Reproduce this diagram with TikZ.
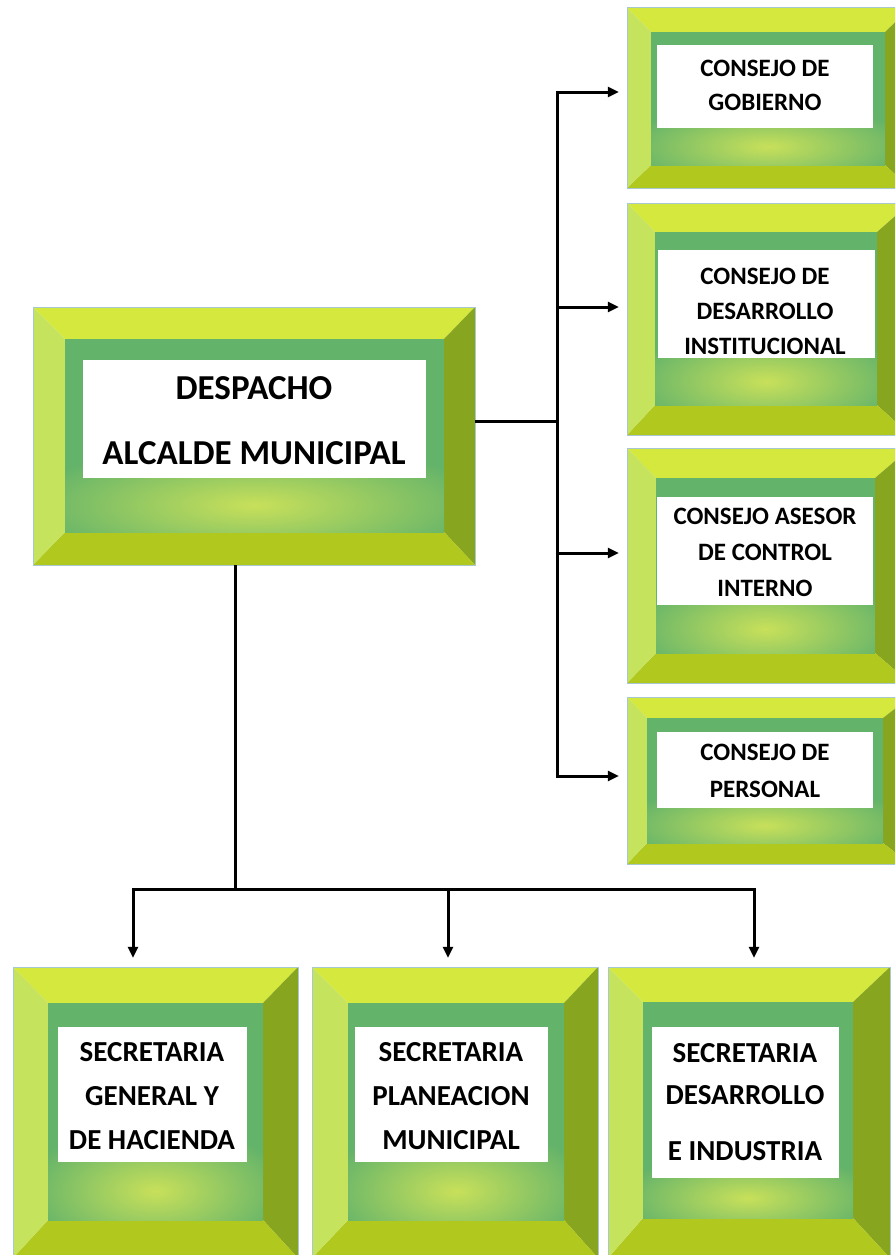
\documentclass[tikz,border=0pt]{standalone}
\usepackage{fontspec}
\setmainfont{Carlito}
\usetikzlibrary{arrows.meta,calc,fit}
\definecolor{ftop}{HTML}{D4E83E}
\definecolor{fleft}{HTML}{C6E35E}
\definecolor{fright}{HTML}{87A51F}
\definecolor{fbottom}{HTML}{B1C91F}
\definecolor{ingreen}{HTML}{63B36A}
\definecolor{glow}{HTML}{C8E05A}
\definecolor{edgeblue}{HTML}{A8C8D0}
\tikzset{
  conn/.style={draw=black, line width=3pt},
  tipend/.style={-{Triangle[length=11pt,width=10pt]}},
  tipboth/.style={{Triangle[length=11pt,width=10pt]}-{Triangle[length=11pt,width=10pt]}},
  label/.style={align=center, inner sep=0pt, text=black},
  desptext/.style={label, font=\bfseries\fontsize{35}{65}\selectfont},
  constext/.style={label, font=\bfseries\fontsize{25}{35}\selectfont},
  secrtext/.style={label, font=\bfseries\fontsize{29}{44}\selectfont},
}
% #1 name, #2 outer corner a, #3 outer corner b, #4 inner a, #5 inner b, #6 white a, #7 white b
\newcommand\bevbox[7]{%
  \coordinate (#1oa) at #2; \coordinate (#1ob) at #3;
  \coordinate (#1ia) at #4; \coordinate (#1ib) at #5;
  \coordinate (#1wa) at #6; \coordinate (#1wb) at #7;
  \fill[ftop] (#1oa) -- (#1oa -| #1ob) -- (#1ia -| #1ib) -- (#1ia) -- cycle;
  \fill[fright] (#1oa -| #1ob) -- (#1ob) -- (#1ib) -- (#1ia -| #1ib) -- cycle;
  \fill[fbottom] (#1ob) -- (#1oa |- #1ob) -- (#1ia |- #1ib) -- (#1ib) -- cycle;
  \fill[fleft] (#1oa |- #1ob) -- (#1oa) -- (#1ia) -- (#1ia |- #1ib) -- cycle;
  \fill[ingreen] (#1ia) rectangle (#1ib);
  \begin{scope}
    \clip (#1ia) rectangle (#1ib);
    \path let \p1=(#1ia), \p2=(#1ib), \p3=(#1wb) in
      \pgfextra{\pgfmathsetmacro\gcx{(\x1+\x2)/2}\pgfmathsetmacro\gcy{\y3+0.5*(\y2-\y3)}
      \pgfmathsetmacro\grx{0.62*(\x2-\x1)}\pgfmathsetmacro\gry{1.15*(\y3-\y2)}
      \xdef\gcx{\gcx}\xdef\gcy{\gcy}\xdef\grx{\grx}\xdef\gry{\gry}};
    \shade[inner color=glow, outer color=ingreen]
      (\gcx pt,\gcy pt) ellipse [x radius=\grx pt, y radius=\gry pt];
  \end{scope}
  \draw[edgeblue, line width=1pt] (#1oa) rectangle (#1ob);
  \fill[white] (#1wa) rectangle (#1wb);
  \node[inner sep=0pt, fit=(#1oa)(#1ob)] (#1) {};
}
\begin{document}
\begin{tikzpicture}[x=1pt,y=-1pt]
\useasboundingbox (0,0) rectangle (895,1255);
\fill[white] (0,0) rectangle (895,1255);
\clip (0,0) rectangle (895,1255);

% boxes
\bevbox{desp}{(33,307)}{(475,565)}{(65,339)}{(444,532)}{(83,360)}{(426,478)}
\bevbox{ca}{(627,8)}{(910,188)}{(651,32)}{(885,165)}{(657,45)}{(873,128)}
\bevbox{cb}{(627,203)}{(910,435)}{(655,232)}{(877,405)}{(658,250)}{(875,358)}
\bevbox{cc}{(627,448)}{(910,683)}{(656,478)}{(875,653)}{(657,497)}{(873,605)}
\bevbox{cd}{(627,697)}{(910,864)}{(647,718)}{(883,843)}{(657,732)}{(873,808)}
\bevbox{sa}{(13,967)}{(298,1258)}{(48,1003)}{(263,1220)}{(58,1027)}{(247,1162)}
\bevbox{sb}{(312,967)}{(598,1258)}{(348,1003)}{(564,1220)}{(355,1027)}{(548,1162)}
\bevbox{sc}{(608,967)}{(890,1258)}{(643,1002)}{(853,1218)}{(652,1027)}{(839,1178)}

% texts
\node[desptext] (despt) at (254,421) {DESPACHO\\ALCALDE MUNICIPAL};
\node[constext, font=\bfseries\fontsize{25}{34}\selectfont] (cat) at (765,85) {CONSEJO DE\\GOBIERNO};
\node[constext] (cbt) at (765,311) {CONSEJO DE\\DESARROLLO\\INSTITUCIONAL};
\node[constext, font=\bfseries\fontsize{25}{36}\selectfont] (cct) at (765,552) {CONSEJO ASESOR\\DE CONTROL\\INTERNO};
\node[constext, font=\bfseries\fontsize{25}{37}\selectfont] (cdt) at (765,771) {CONSEJO DE\\PERSONAL};
\node[secrtext] (sat) at (152,1096) {SECRETARIA\\GENERAL Y\\DE HACIENDA};
\node[secrtext] (sbt) at (451,1096) {SECRETARIA\\PLANEACION\\MUNICIPAL};
\node[secrtext, font=\bfseries\fontsize{29}{42}\selectfont] (sct) at (745,1102) {SECRETARIA\\DESARROLLO\\[14pt]E INDUSTRIA};

% connectors to the councils
\coordinate (ja) at (557,92);
\coordinate (jb) at (557,307);
\coordinate (jd) at (557,421);
\coordinate (jc) at (557,553);
\coordinate (je) at (557,776);
\draw[conn] (desp.east |- jd) -- (jd);
\draw[conn, tipboth, shorten <=8pt, shorten >=8pt] (ja -| ca.west) -- (ja) -- (je) -- (je -| cd.west);
\draw[conn, tipend, shorten >=8pt] (jb) -- (jb -| cb.west);
\draw[conn, tipend, shorten >=8pt] (jc) -- (jc -| cc.west);

% connectors to the secretariats
\coordinate (h0) at (235,889);
\coordinate (ha) at (133,889);
\coordinate (hb) at (448,889);
\coordinate (hc) at (754,889);
\draw[conn] (h0 |- desp.south) -- (h0);
\draw[conn, tipboth, shorten <=9pt, shorten >=9pt] (ha |- sa.north) -- (ha) -- (hc) -- (hc |- sc.north);
\draw[conn, tipend, shorten >=9pt] (hb) -- (hb |- sb.north);
\end{tikzpicture}
\end{document}
